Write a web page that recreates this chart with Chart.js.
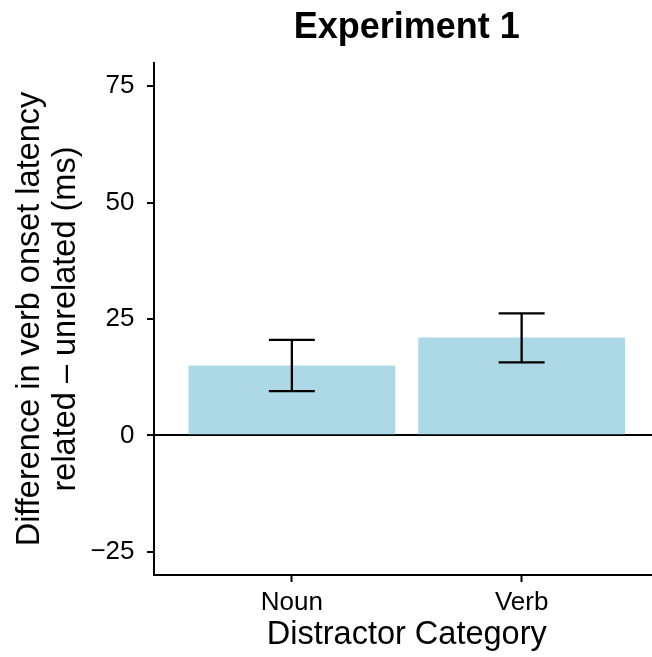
<!DOCTYPE html>
<html>
<head>
<meta charset="utf-8">
<script src="https://cdn.jsdelivr.net/npm/chart.js@4/dist/chart.umd.min.js"></script>
<style>
html, body { margin: 0; padding: 0; overflow: hidden; background: #fff; }
canvas { display: block; }
</style>
</head>
<body>
<canvas id="myChart" width="662" height="657"></canvas>
<script>
const categories = ['Noun', 'Verb'];
const meanDiff = [15, 21];
const lowerCI = [9.5, 15.7];
const upperCI = [20.5, 26.2];
const yTicks = [-25, 0, 25, 50, 75];

Chart.defaults.font.family = "'Liberation Sans', Arial, Helvetica, sans-serif";
Chart.defaults.color = '#000';

// whiskers on top of the bars
const errorBars = {
	id: 'errorBars',
	afterDatasetsDraw(chart) {
		const ctx = chart.ctx;
		const x = chart.scales.x, y = chart.scales.y;
		const half = x.getPixelForValue(1.1) - x.getPixelForValue(1);
		ctx.save();
		ctx.strokeStyle = '#000';
		ctx.lineWidth = 2.3;
		for (let i = 0; i < categories.length; i++) {
			const px = x.getPixelForValue(i + 1);
			const lo = y.getPixelForValue(lowerCI[i]);
			const hi = y.getPixelForValue(upperCI[i]);
			ctx.beginPath();
			ctx.moveTo(px, lo); ctx.lineTo(px, hi);
			ctx.moveTo(px - half, lo); ctx.lineTo(px + half, lo);
			ctx.moveTo(px - half, hi); ctx.lineTo(px + half, hi);
			ctx.stroke();
		}
		ctx.restore();
	}
};

const data = {
	datasets: [{
		data: categories.map((c, i) => ({ x: i + 1, y: meanDiff[i] })),
		backgroundColor: '#ADD8E6',
		borderWidth: 0,
		barPercentage: 0.9,
		categoryPercentage: 1
	}]
};

const config = {
	type: 'bar',
	data: data,
	options: {
		responsive: false,
		animation: false,
		layout: { padding: { left: 0, right: 2.5, top: 0, bottom: 0 } },
		plugins: {
			legend: { display: false },
			tooltip: { enabled: false },
			title: {
				display: true,
				text: 'Experiment 1',
				fullSize: false,
				color: '#000',
				font: { size: 36, weight: 'bold', lineHeight: 1.2 },
				padding: { top: 6.6, bottom: 13.2 }
			}
		},
		scales: {
			x: {
				type: 'linear',
				min: 0.4,
				max: 2.6,
				offset: false,
				afterBuildTicks: s => { s.ticks = categories.map((c, i) => ({ value: i + 1 })); },
				afterFit: s => { s.height = 82; },
				ticks: {
					callback: v => categories[v - 1],
					font: { size: 26 },
					padding: 5,
					maxRotation: 0,
					autoSkip: false
				},
				grid: { offset: false, drawOnChartArea: false, drawTicks: true, tickLength: 7, tickColor: '#000', tickWidth: 2 },
				border: { display: true, color: '#000', width: 2 },
				title: {
					display: true,
					text: 'Distractor Category',
					font: { size: 32.5, lineHeight: 1.2 },
					padding: { top: 0, bottom: 2 }
				}
			},
			y: {
				min: -30,
				max: 80,
				z: 1,
				afterBuildTicks: s => { s.ticks = yTicks.map(v => ({ value: v })); },
				afterFit: s => { s.width = 154; },
				ticks: {
					font: { size: 26 },
					padding: 12.5,
					callback: v => v < 0 ? '\u2212' + Math.abs(v) : String(v)
				},
				grid: {
					drawOnChartArea: true,
					color: c => (c.tick && c.tick.value === 0) ? '#000' : 'rgba(0,0,0,0)',
					lineWidth: 2,
					tickColor: '#000',
					tickWidth: 2,
					tickLength: 7
				},
				border: { display: true, color: '#000', width: 2 },
				title: {
					display: true,
					text: ['Difference in verb onset latency', 'related \u2013 unrelated (ms)'],
					font: { size: 32.5, lineHeight: 1.11 },
					padding: { top: 11.5, bottom: 0 }
				}
			}
		}
	},
	plugins: [errorBars]
};

new Chart(document.getElementById('myChart').getContext('2d'), config);
</script>
</body>
</html>
